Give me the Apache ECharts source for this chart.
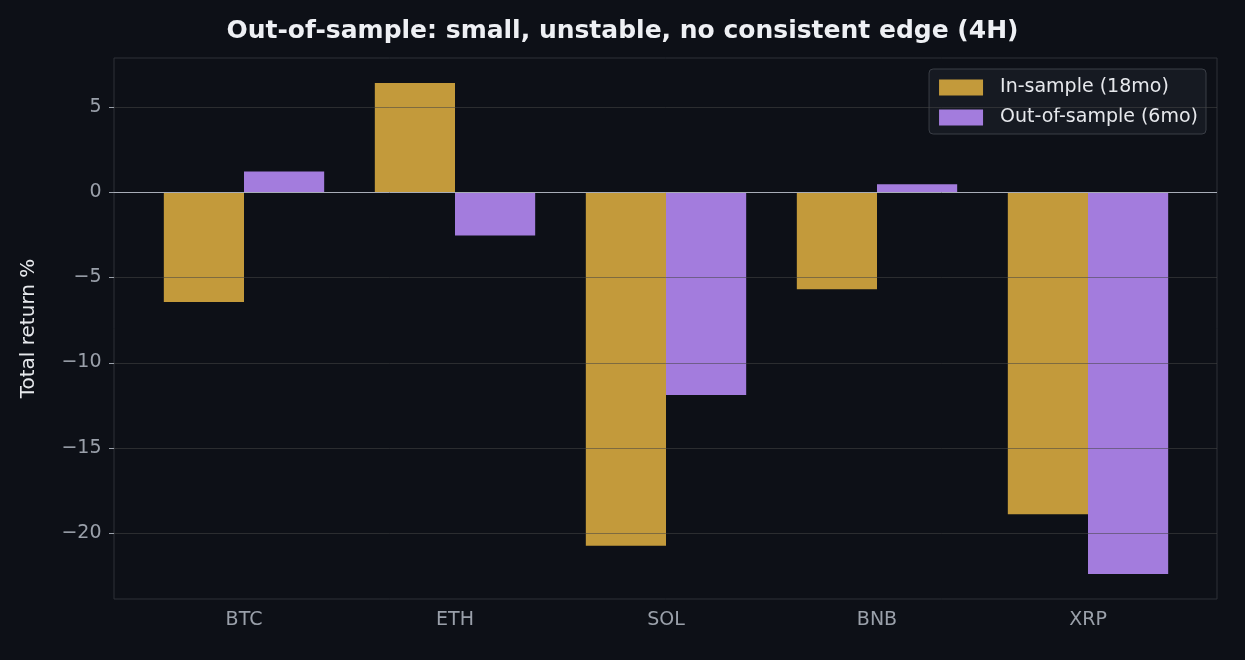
<!DOCTYPE html>
<html><head><meta charset="utf-8">
<script src="https://cdn.jsdelivr.net/npm/echarts@6/dist/echarts.min.js"></script>
<style>html,body{margin:0;background:#0d1017}#main{width:1245px;height:660px}</style>
</head><body><div id="main"></div>
<script>
var categories = ['BTC', 'ETH', 'SOL', 'BNB', 'XRP'];
var inSample = [-6.45, 6.4, -20.75, -5.7, -18.9];
var outSample = [1.2, -2.55, -11.9, 0.45, -22.4];
var yTicks = [5, 0, -5, -10, -15, -20];

var myChart = echarts.init(document.getElementById('main'));
var font = 'DejaVu Sans';
// frame of the plot area (categories are padded inside it)
var frame = { left: 114, top: 58, right: 1217, bottom: 599 };
var option = {
    backgroundColor: '#0d1017',
    textStyle: { fontFamily: font },
    title: {
        text: 'Out-of-sample: small, unstable, no consistent edge (4H)',
        left: 'center', top: 14,
        textStyle: { color: '#eef0f4', fontSize: 25, fontWeight: 'bold', fontFamily: font }
    },
    legend: {
        data: ['In-sample (18mo)', 'Out-of-sample (6mo)'],
        orient: 'vertical', right: 39, top: 69,
        backgroundColor: '#161a22', borderColor: '#3a3e46', borderWidth: 1, borderRadius: 4,
        padding: [9, 8, 7, 10], itemGap: 11, itemWidth: 44, itemHeight: 16,
        textStyle: { color: '#e6e8ec', fontSize: 19, fontFamily: font, padding: [0, 0, 0, 12] },
        icon: 'rect'
    },
    grid: { left: 138.5, right: 51.5, top: 58, bottom: 61 },
    xAxis: {
        type: 'category', data: categories,
        axisLine: { show: false }, axisTick: { show: false },
        axisLabel: { color: '#9aa0aa', fontSize: 19, margin: 12 }
    },
    yAxis: {
        type: 'value', min: -23.87, max: 7.86,
        name: 'Total return %', nameLocation: 'middle', nameGap: 100,
        nameTextStyle: { color: '#e6e8ec', fontSize: 20 },
        axisLine: { show: false }, splitLine: { show: false }, axisTick: { show: false },
        axisLabel: {
            customValues: yTicks, color: '#9aa0aa', fontSize: 19, margin: 37,
            formatter: function (v) { return v < 0 ? '\u2212' + (-v) : '' + v; }
        }
    },
    series: [
        { name: 'In-sample (18mo)', type: 'bar', data: inSample, barGap: '0%', barCategoryGap: '24%',
          itemStyle: { color: '#c39a3b' } },
        { name: 'Out-of-sample (6mo)', type: 'bar', data: outSample,
          itemStyle: { color: '#a37cdd' } }
    ]
};
myChart.setOption(option);

// frame, gridlines and zero line spanning the full frame, placed through the y scale
var els = [{
    type: 'rect', silent: true, z: 100,
    shape: { x: frame.left, y: frame.top, width: frame.right - frame.left, height: frame.bottom - frame.top },
    style: { fill: null, stroke: '#2e3138', lineWidth: 1 }
}];
yTicks.forEach(function (t) {
    var py = Math.round(myChart.convertToPixel({ yAxisIndex: 0 }, t)) + 0.5;
    els.push({
        type: 'line', silent: true, z: 100,
        shape: { x1: frame.left, y1: py, x2: frame.right, y2: py },
        style: { stroke: t === 0 ? '#a8adb8' : 'rgba(70,70,70,0.55)', lineWidth: 1 }
    });
    els.push({
        type: 'line', silent: true, z: 100,
        shape: { x1: frame.left - 5, y1: py, x2: frame.left, y2: py },
        style: { stroke: '#9aa0aa', lineWidth: 1 }
    });
});
myChart.setOption({ graphic: els });
</script>
</body></html>
